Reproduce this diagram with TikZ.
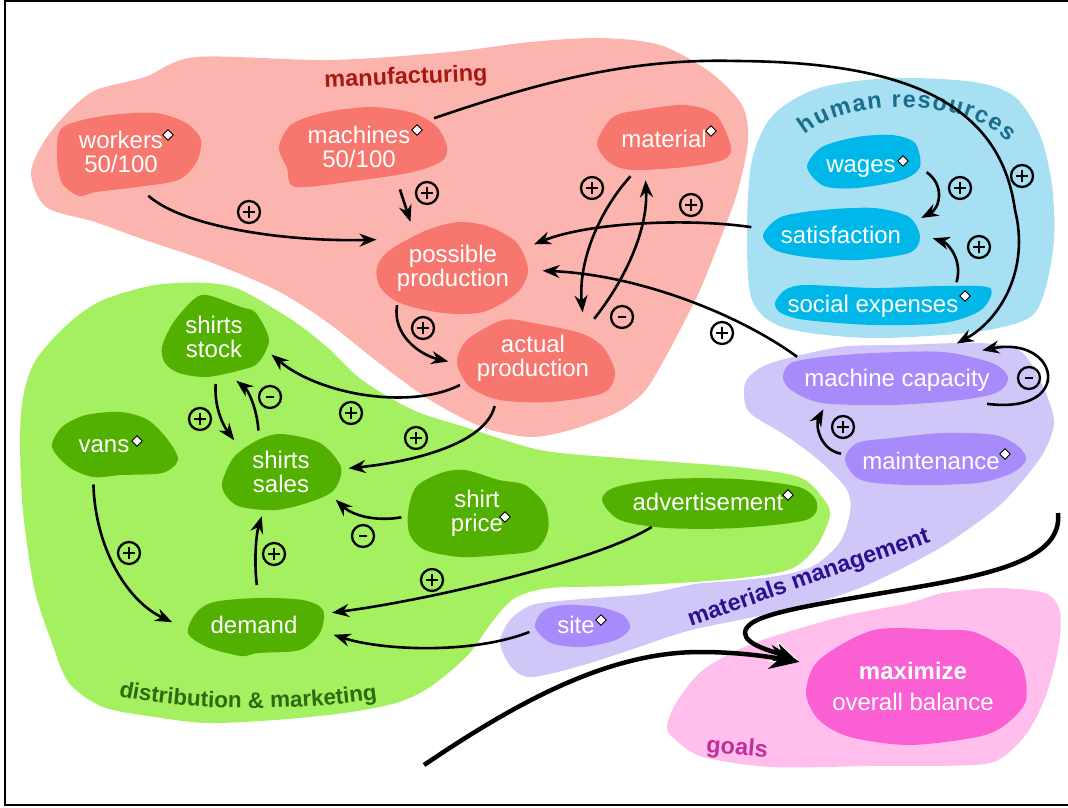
\documentclass[tikz,border=0pt]{standalone}
\usepackage{fontspec}
\setmainfont{Liberation Sans}
\usetikzlibrary{shapes.geometric, arrows.meta, decorations.text}

% area colours: light field, darker blob, title
\definecolor{mfgL}{RGB}{252,180,175}
\definecolor{mfgD}{RGB}{247,118,110}
\definecolor{mfgT}{RGB}{168,24,14}
\definecolor{hrL}{RGB}{167,224,242}
\definecolor{hrD}{RGB}{0,183,233}
\definecolor{hrT}{RGB}{24,110,140}
\definecolor{mmL}{RGB}{208,199,248}
\definecolor{mmD}{RGB}{167,139,250}
\definecolor{mmT}{RGB}{42,16,144}
\definecolor{dmL}{RGB}{164,240,96}
\definecolor{dmD}{RGB}{81,176,0}
\definecolor{dmT}{RGB}{47,107,14}
\definecolor{goL}{RGB}{255,190,236}
\definecolor{goD}{RGB}{250,95,212}
\definecolor{goT}{RGB}{194,47,156}

\newcommand\nodefont{\fontsize{24}{24}\selectfont}
\newcommand\areafont{\fontsize{23.5}{24}\selectfont\bfseries}
\newcommand\dmfont{\fontsize{22.5}{24}\selectfont\bfseries}

\begin{document}
\begin{tikzpicture}[x=1pt, y=-1pt,
  hub/.style={ellipse, inner sep=0pt, outer sep=0pt},
  txt/.style={text=white, font=\nodefont, align=center, inner sep=0pt},
  btxt/.style={txt, anchor=base},
  arr/.style={line width=2.6pt, -{Stealth[length=17pt,width=13pt]}},
  bigarr/.style={line width=4.5pt, -{Stealth[length=30pt,width=24pt]}},
  sgn/.style={circle, draw=black, line width=2.3pt, minimum size=22pt, inner sep=0pt},
  plusmark/.style={sgn, path picture={
      \draw[line width=2.8pt] ([xshift=-6pt]path picture bounding box.center) -- ([xshift=6pt]path picture bounding box.center);
      \draw[line width=2.8pt] ([yshift=-6pt]path picture bounding box.center) -- ([yshift=6pt]path picture bounding box.center);}},
  minusmark/.style={sgn, path picture={
      \draw[line width=2.8pt] ([xshift=-4pt]path picture bounding box.center) -- ([xshift=4pt]path picture bounding box.center);}},
  dmd/.style={diamond, draw=black, fill=white, line width=0.9pt, inner sep=0pt, minimum size=11pt},
  area/.style={font=\areafont, inner sep=0pt},
]
\useasboundingbox (0,0) rectangle (1068,807);

% page frame
\draw[line width=1.2pt] (1080,1) -- (5,1) -- (5,805) -- (1080,805);

% ---------- areas ----------
\fill[mfgL] plot[smooth cycle] coordinates {(196,57) (330,60) (450,52) (530,42) (600,38) (660,45) (710,72) (742,105) (748,140) (738,190) (720,240) (700,290) (680,330) (664,360) (644,392) (616,413) (570,430) (530,437) (482,427) (430,400) (379,363) (327,322) (276,290) (210,262) (145,240) (95,222) (46,207) (31,173) (45,140) (70,110) (96,90) (145,77)};
\fill[hrL] plot[smooth cycle] coordinates {(752,300) (747,230) (752,160) (773,115) (819,88) (892,78) (974,82) (1015,97) (1040,135) (1052,185) (1054,240) (1045,290) (1029,318) (975,332) (870,338) (785,328)};
\fill[dmL] plot[smooth cycle] coordinates {(21,413) (34,363) (69,323) (103,300) (155,285) (207,283) (241,290) (292,320) (327,347) (362,380) (413,410) (465,427) (540,450) (620,458) (737,467) (799,477) (822,497) (830,515) (816,547) (788,570) (720,580) (620,586) (550,588) (515,598) (492,622) (468,655) (430,687) (396,703) (344,713) (275,720) (207,723) (155,717) (103,707) (69,683) (52,643) (34,587) (22,500)};
\fill[mmL] plot[smooth cycle] coordinates {(744,393) (750,413) (788,437) (822,463) (847,490) (850,513) (840,542) (815,565) (783,575) (733,581) (695,584) (644,594) (570,600) (532,605) (510,620) (500,643) (512,668) (532,677) (580,666) (633,649) (668,637) (700,628) (800,607) (867,585) (933,552) (967,530) (1000,505) (1025,478) (1045,450) (1054,420) (1040,380) (1019,350) (978,343) (900,345) (840,347) (771,363) (748,378)};
\fill[goL] plot[smooth cycle] coordinates {(667,728) (676,703) (703,670) (754,643) (840,617) (909,603) (943,593) (995,588) (1045,593) (1060,612) (1058,650) (1045,698) (1027,733) (1003,757) (975,765) (874,766) (771,767) (703,757) (678,742)};

% ---------- blobs ----------
\fill[mfgD] plot[smooth cycle] coordinates {(62,128) (103,116) (155,113) (186,123) (201,140) (196,163) (178,180) (137,187) (96,192) (79,196) (62,183) (57,157)};
\fill[mfgD] plot[smooth cycle] coordinates {(279,147) (292,124) (327,112) (372,107) (413,113) (437,127) (447,147) (442,161) (413,172) (362,180) (296,187) (287,168)};
\fill[mfgD] plot[smooth cycle] coordinates {(597,143) (613,117) (641,110) (685,105) (716,115) (731,147) (723,160) (685,167) (633,170) (610,163)};
\fill[mfgD] plot[smooth cycle] coordinates {(377,267) (390,250) (427,230) (460,222) (490,227) (517,243) (528,270) (517,293) (483,312) (443,313) (400,303) (380,287)};
\fill[mfgD] plot[smooth cycle] coordinates {(457,363) (467,340) (503,320) (533,323) (580,333) (603,347) (615,373) (603,393) (550,402) (500,400) (470,387)};
\fill[hrD] plot[smooth cycle] coordinates {(807,167) (822,147) (857,137) (892,135) (915,143) (920,167) (902,180) (857,188) (824,186)};
\fill[hrD] plot[smooth cycle] coordinates {(763,235) (781,217) (822,210) (874,208) (909,217) (920,237) (909,253) (857,260) (806,257) (775,250)};
\fill[hrD] plot[smooth cycle] coordinates {(775,303) (785,290) (806,285) (874,288) (943,286) (990,288) (981,310) (943,323) (874,325) (806,320) (781,313)};
\fill[mmD] plot[smooth cycle] coordinates {(783,377) (791,363) (822,357) (874,353) (943,352) (992,363) (1008,377) (998,392) (961,400) (892,405) (822,403) (791,390)};
\fill[mmD] plot[smooth cycle] coordinates {(845,460) (857,443) (892,438) (943,433) (995,435) (1019,447) (1026,460) (1012,473) (977,483) (909,485) (861,480)};
\fill[mmD] plot[smooth cycle] coordinates {(535,627) (543,611) (564,605) (599,607) (623,615) (630,628) (616,640) (582,647) (551,643)};
\fill[dmD] plot[smooth cycle] coordinates {(162,347) (173,323) (193,300) (207,295) (241,307) (256,313) (269,340) (258,363) (241,370) (207,377) (179,373) (165,363)};
\fill[dmD] plot[smooth cycle] coordinates {(52,447) (62,427) (86,415) (121,412) (148,420) (168,440) (178,460) (162,473) (121,475) (93,477) (69,467)};
\fill[dmD] plot[smooth cycle] coordinates {(222,483) (234,457) (258,440) (282,434) (320,443) (341,467) (334,490) (310,502) (276,510) (241,507) (227,497)};
\fill[dmD] plot[smooth cycle] coordinates {(408,513) (416,487) (441,473) (465,470) (499,480) (525,485) (545,505) (548,530) (535,550) (500,555) (460,557) (425,550) (410,535)};
\fill[dmD] plot[smooth cycle] coordinates {(602,500) (616,487) (667,479) (737,479) (799,487) (817,503) (806,520) (737,528) (667,528) (620,520)};
\fill[dmD] plot[smooth cycle] coordinates {(188,633) (196,613) (214,602) (258,598) (303,600) (323,610) (320,633) (300,650) (258,653) (241,656) (207,647)};
\fill[goD] plot[smooth cycle] coordinates {(806,693) (819,660) (874,630) (943,630) (977,633) (1019,660) (1026,700) (1005,725) (977,737) (909,745) (850,737) (819,720)};

% ---------- connection hubs ----------
\node[hub, minimum width=150pt, minimum height=94pt]  (W) at (121,152) {};
\node[hub, minimum width=190pt, minimum height=94pt]  (M) at (359,147) {};
\node[hub, minimum width=134pt, minimum height=86pt]  (T) at (664,139) {};
\node[hub, minimum width=180pt, minimum height=100pt] (P) at (453,266) {};
\node[hub, minimum width=170pt, minimum height=110pt] (A) at (533,357) {};
\node[hub, minimum width=136pt, minimum height=70pt]  (G) at (861,163) {};
\node[hub, minimum width=184pt, minimum height=70pt]  (S) at (841,235) {};
\node[hub, minimum width=220pt, minimum height=64pt]  (X) at (873,303) {};
\node[hub, minimum width=236pt, minimum height=80pt]  (C) at (897,378) {};
\node[hub, minimum width=184pt, minimum height=60pt]  (N) at (931,460) {};
\node[hub, minimum width=100pt, minimum height=50pt]  (I) at (578,626) {};
\node[hub, minimum width=124pt, minimum height=94pt]  (K) at (214,337) {};
\node[hub, minimum width=132pt, minimum height=80pt]  (V) at (104,445) {};
\node[hub, minimum width=136pt, minimum height=90pt]  (L) at (281,473) {};
\node[hub, minimum width=152pt, minimum height=96pt]  (R) at (477,512) {};
\node[hub, minimum width=216pt, minimum height=56pt]  (D) at (708,503) {};
\node[hub, minimum width=164pt, minimum height=80pt]  (E) at (254,625) {};
\node[hub, minimum width=250pt, minimum height=124pt] (O) at (913,688) {};

% ---------- texts ----------
\node[txt]  (Wt) at (121,152) {workers\\50/100};
\node[txt]  (Mt) at (359,147) {machines\\50/100};
\node[btxt] (Tt) at (664,147) {material};
\node[txt]  (Pt) at (453,268) {possible\\production};
\node[txt]  (At) at (533,358) {actual\\production};
\node[btxt] (Gt) at (861,172) {wages};
\node[btxt] (St) at (841,243) {satisfaction};
\node[btxt] (Xt) at (873,312) {social expenses};
\node[btxt] (Ct) at (897,386) {machine capacity};
\node[btxt] (Nt) at (931,469) {maintenance};
\node[btxt] (It) at (576,633) {site};
\node[txt]  (Kt) at (214,337) {shirts\\stock};
\node[btxt] (Vt) at (104,452) {vans};
\node[txt]  (Lt) at (281,472) {shirts\\sales};
\node[txt]  (Rt) at (477,513) {shirt\\price};
\node[btxt] (Dt) at (708,510) {advertisement};
\node[btxt] (Et) at (254,633) {demand};
\node[txt, font=\fontsize{24}{31}\selectfont] (Ot) at (913,686) {\textbf{maximize}\\overall balance};

% exogenous markers
\node[dmd] (dW) at (168,135) {};
\node[dmd] (dM) at (417,130) {};
\node[dmd] (dT) at (711,131) {};
\node[dmd] (dG) at (903,161) {};
\node[dmd] (dX) at (965,296) {};
\node[dmd] (dV) at (137,441) {};
\node[dmd] (dR) at (505,517) {};
\node[dmd] (dD) at (788,495) {};
\node[dmd] (dN) at (1005,454) {};
\node[dmd] (dI) at (601,620) {};

% ---------- area titles ----------
\node[area, text=mfgT, rotate=2.5] (mfgname) at (406,78) {manufacturing};
\path[decorate, decoration={text along path, text align=fit to path, text color=hrT,
  text={|\areafont|human resources}}] (805,135) .. controls (850,97) and (965,97) .. (1008,142);
\node[area, text=mmT, anchor=base, rotate=19.4] (mmname) at (811,584) {materials management};
\path[decorate, decoration={text along path, text align=center, text color=dmT,
  text={|\dmfont|distribution {\&} marketing}}] (110,694) .. controls (180,712) and (300,712) .. (386,698);
\node[area, text=goT, rotate=-5] (goname) at (737,749) {goals};

% ---------- influences ----------
\draw[arr] (W.-58) .. controls (185,228) and (290,242) .. (P.161);
\draw[arr] (M.-46) -- (P.134);
\draw[arr] (T.-132) .. controls (600,210) and (578,260) .. (A.42);
\draw[arr] (A.32) .. controls (625,280) and (648,230) .. (T.-114);
\draw[arr] (S.175) .. controls (690,218) and (590,222) .. (P.15);
\draw[arr] (C.168) .. controls (740,315) and (640,275) .. (P.-3);
\draw[arr] (P.-145) .. controls (392,335) and (420,355) .. (A.183);
\draw[arr] (A.-159) .. controls (410,410) and (320,395) .. (K.-17);
\draw[arr] (A.-128) .. controls (485,445) and (410,462) .. (L.4);
\draw[arr] (K.-88) .. controls (214,410) and (225,428) .. (L.145);
\draw[arr] (L.118) .. controls (257,408) and (248,390) .. (K.-63);
\draw[arr] (R.-176) .. controls (375,522) and (352,515) .. (L.-26);
\draw[arr] (E.86) .. controls (254,560) and (256,535) .. (L.-114);
\draw[arr] (V.-105) .. controls (95,545) and (125,600) .. (E.178);
\draw[arr] (D.-157) .. controls (600,560) and (430,600) .. (E.9);
\draw[arr] (I.-173) .. controls (470,655) and (380,650) .. (E.-7);
\draw[arr] (G.-8) .. controls (945,185) and (940,208) .. (S.12);
\draw[arr] (X.14) .. controls (963,260) and (948,243) .. (S.-2);
\draw[arr] (M.21) .. controls (540,82) and (630,58) .. (737,61)
               .. controls (900,62) and (1000,100) .. (1015,210)
               .. controls (1030,270) and (1000,320) .. (C.30);
\draw[arr] (C.-16) .. controls (1075,415) and (1060,335) .. (C.18);
\draw[arr] (N.176) .. controls (820,450) and (815,425) .. (C.-157);

% polarity signs
\foreach \p [count=\i] in {(249,212),(427,193),(592,188),(691,205),(960,188),(1022,176),(979,247),(722,333),(423,328),(351,413),(416,438),(200,419),(274,554),(129,553),(432,580),(843,427)}
  \node[plusmark] (plus\i) at \p {};
\foreach \p [count=\i] in {(622,317),(270,397),(363,536),(1029,378)}
  \node[minusmark] (minus\i) at \p {};

% ---------- overall flow into the goal ----------
\coordinate (flowA) at (424,765);
\coordinate (flowB) at (1058,513);
\draw[line width=4.5pt, -{Stealth[length=30pt,width=24pt,line width=1pt,color=white,fill=black]}]
  (flowB) .. controls (1063,560) and (990,575) .. (900,590)
          .. controls (800,607) and (745,615) .. (745,633)
          .. controls (745,645) and (775,652) .. (O.167);
\draw[bigarr] (flowA) .. controls (520,700) and (610,652) .. (700,652)
          .. controls (740,652) and (770,657) .. (O.167);
\end{tikzpicture}
\end{document}
